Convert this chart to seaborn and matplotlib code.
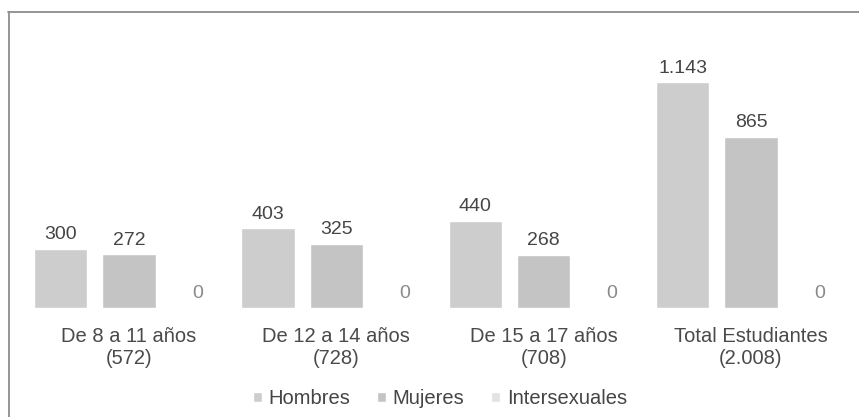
import pandas as pd
import numpy as np
import matplotlib.pyplot as plt
import seaborn as sns
from matplotlib.lines import Line2D

# datos
grupos = ["De 8 a 11 años\n(572)", "De 12 a 14 años\n(728)",
          "De 15 a 17 años\n(708)", "Total Estudiantes\n(2.008)"]
sexos = ["Hombres", "Mujeres", "Intersexuales"]
hombres = [300, 403, 440, 1143]
mujeres = [272, 325, 268, 865]
intersexuales = [0, 0, 0, 0]

colores = {"Hombres": "#cdcdcd", "Mujeres": "#c4c4c4", "Intersexuales": "#e2e2e2"}

df = pd.DataFrame({
    "grupo": grupos * 3,
    "sexo": np.repeat(sexos, len(grupos)),
    "valor": hombres + mujeres + intersexuales,
})

sns.set_style("white")
plt.rcParams["font.family"] = ["Liberation Sans", "DejaVu Sans"]

fig = plt.figure(figsize=(8.59, 4.17), dpi=100)
ax = fig.add_axes([0, 0.2614, 1, 0.6906])

sns.barplot(data=df, x="grupo", y="valor", hue="sexo", hue_order=sexos,
            palette=colores, width=0.99, gap=0.22, saturation=1, ax=ax)

ax.set_xlim(-0.622, 3.521)
ax.set_ylim(0, 1457)

fmt = lambda v: f"{v:,.0f}".replace(",", ".")
for i, cont in enumerate(ax.containers):
    col = "#8a8a8a" if i == 2 else "#454545"
    ax.bar_label(cont, fmt=fmt, padding=4, fontsize=14, color=col)

ax.set_xlabel("")
ax.set_ylabel("")
ax.set_yticks([])
ax.tick_params(axis="x", length=0, pad=14, labelsize=14.5, labelcolor="#4a4a4a")
sns.despine(ax=ax, left=True, bottom=True)

sns.move_legend(ax, "center", bbox_to_anchor=(0.512, 0.044),
                bbox_transform=fig.transFigure, ncol=3, frameon=False,
                title=None, fontsize=14.5, handlelength=0.45, handleheight=0.45,
                handletextpad=0.35, columnspacing=1.3, labelcolor="#454545")

# marco del recuadro
fig.add_artist(Line2D([8 / 859, 1], [1 - 12 / 417] * 2,
                      transform=fig.transFigure, color="#8c8c8c", lw=1.3))
fig.add_artist(Line2D([9 / 859] * 2, [0, 1 - 12 / 417],
                      transform=fig.transFigure, color="#8c8c8c", lw=1.3))

fig.savefig("out.png", dpi=100)
